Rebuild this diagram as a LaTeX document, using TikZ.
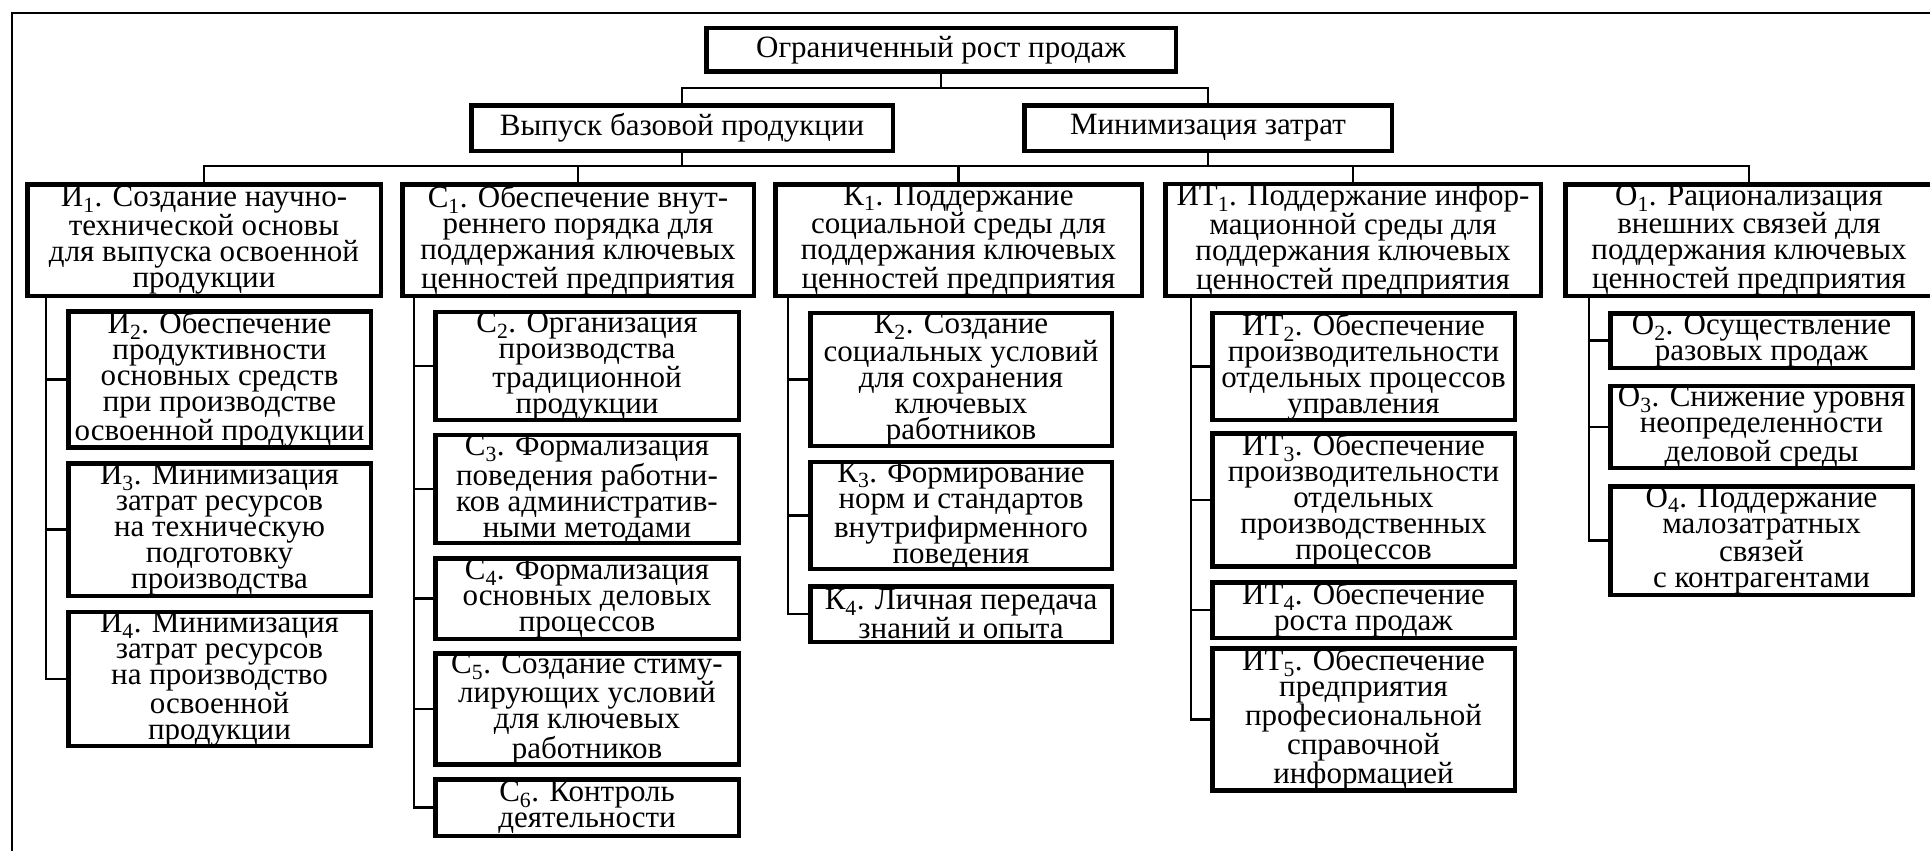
\documentclass[tikz,border=0pt]{standalone}
\usepackage{fontspec}
\setmainfont{Liberation Serif}
\newcommand\ix[1]{\textsubscript{#1}}
\begin{document}
\begin{tikzpicture}[x=1pt,y=-1pt,
  box/.style={draw, line width=4.5pt, rectangle, inner sep=0pt, align=center,
              font=\fontsize{31}{26}\selectfont},
  link/.style={line width=2.2pt}]
\useasboundingbox (0,0) rectangle (1930,851);
\fill[white] (0,0) rectangle (1930,851);
\clip (0,0) rectangle (1930,851);
% outer frame
\draw[link] (12,13) rectangle (1960,880);

% goal and two directions
\node[box, minimum width=469.5pt, minimum height=43.5pt] (top) at (941,50) {Ограниченный рост продаж};
\node[box, minimum width=421.5pt, minimum height=45.5pt] (vyp) at (682,128) {Выпуск базовой продукции};
\node[box, minimum width=367.5pt, minimum height=45.5pt] (mn) at (1208,128) {Минимизация затрат};

% first-level tasks
\node[box, minimum width=353.5pt, minimum height=111.5pt] (i1) at (204,240)
  {И\ix{1}. Создание научно-\\технической основы\\для выпуска освоенной\\продукции};
\node[box, minimum width=351.5pt, minimum height=111.5pt] (c1) at (578,240)
  {С\ix{1}. Обеспечение внут-\\реннего порядка для\\поддержания ключевых\\ценностей предприятия};
\node[box, minimum width=366.5pt, minimum height=111.5pt] (k1) at (958.5,240)
  {К\ix{1}. Поддержание\\социальной среды для\\поддержания ключевых\\ценностей предприятия};
\node[box, minimum width=375.5pt, minimum height=111.5pt] (it1) at (1353,240)
  {ИТ\ix{1}. Поддержание инфор-\\мационной среды для\\поддержания ключевых\\ценностей предприятия};
\node[box, minimum width=367.5pt, minimum height=111.5pt] (o1) at (1749,240)
  {О\ix{1}. Рационализация\\внешних связей для\\поддержания ключевых\\ценностей предприятия};

% И branch
\node[box, minimum width=302.5pt, minimum height=132.5pt] (i2) at (219.5,379.5)
  {И\ix{2}. Обеспечение\\продуктивности\\основных средств\\при производстве\\освоенной продукции};
\node[box, minimum width=302.5pt, minimum height=132.5pt] (i3) at (219.5,529.5)
  {И\ix{3}. Минимизация\\затрат ресурсов\\на техническую\\подготовку\\производства};
\node[box, minimum width=302.5pt, minimum height=133.5pt] (i4) at (219.5,679)
  {И\ix{4}. Минимизация\\затрат ресурсов\\на производство\\освоенной\\продукции};

% С branch
\node[box, minimum width=303.5pt, minimum height=105.5pt] (c2) at (587,366)
  {С\ix{2}. Организация\\производства\\традиционной\\продукции};
\node[box, minimum width=303.5pt, minimum height=105.5pt] (c3) at (587,489)
  {С\ix{3}. Формализация\\поведения работни-\\ков административ-\\ными методами};
\node[box, minimum width=303.5pt, minimum height=80.5pt] (c4) at (587,598.5)
  {С\ix{4}. Формализация\\основных деловых\\процессов};
\node[box, minimum width=303.5pt, minimum height=107.5pt] (c5) at (587,709)
  {С\ix{5}. Создание стиму-\\лирующих условий\\для ключевых\\работников};
\node[box, minimum width=303.5pt, minimum height=56.5pt] (c6) at (587,807.5)
  {С\ix{6}. Контроль\\деятельности};

% К branch
\node[box, minimum width=301.5pt, minimum height=132.5pt] (k2) at (961,379.5)
  {К\ix{2}. Создание\\социальных условий\\для сохранения\\ключевых\\работников};
\node[box, minimum width=301.5pt, minimum height=106.5pt] (k3) at (961,515.5)
  {К\ix{3}. Формирование\\норм и стандартов\\внутрифирменного\\поведения};
\node[box, minimum width=301.5pt, minimum height=55.5pt] (k4) at (961,614)
  {К\ix{4}. Личная передача\\знаний и опыта};

% ИТ branch
\node[box, minimum width=302.5pt, minimum height=106.5pt] (it2) at (1363.5,366.5)
  {ИТ\ix{2}. Обеспечение\\производительности\\отдельных процессов\\управления};
\node[box, minimum width=302.5pt, minimum height=131.5pt] (it3) at (1363.5,500)
  {ИТ\ix{3}. Обеспечение\\производительности\\отдельных\\производственных\\процессов};
\node[box, minimum width=302.5pt, minimum height=55.5pt] (it4) at (1363.5,610)
  {ИТ\ix{4}. Обеспечение\\роста продаж};
\node[box, minimum width=302.5pt, minimum height=132.5pt] (it5) at (1363.5,719.5)
  {ИТ\ix{5}. Обеспечение\\предприятия\\професиональной\\справочной\\информацией};

% О branch
\node[box, minimum width=302.5pt, minimum height=54.5pt] (o2) at (1761.5,340.5)
  {О\ix{2}. Осуществление\\разовых продаж};
\node[box, minimum width=302.5pt, minimum height=81.5pt] (o3) at (1761.5,427)
  {О\ix{3}. Снижение уровня\\неопределенности\\деловой среды};
\node[box, minimum width=302.5pt, minimum height=108.5pt] (o4) at (1761.5,540.5)
  {О\ix{4}. Поддержание\\малозатратных\\связей\\с контрагентами};

% top fork
\draw[link] (top.south) -- ++(0,14) -| (vyp.north);
\draw[link] (top.south) ++(0,14) -| (mn.north);

% bus to the first-level tasks
\path (i1.north) ++(0,-16) coordinate (bus);
\draw[link] (i1.north) -- (bus) -| (o1.north);
\draw[link] (vyp.south) -- (vyp.south |- bus);
\draw[link] (mn.south) -- (mn.south |- bus);
\draw[link] (c1.north) -- (c1.north |- bus);
\draw[link] (k1.north) -- (k1.north |- bus);
\draw[link] (it1.north) -- (it1.north |- bus);

% trunks to the sub-tasks
\coordinate (ti) at (46,0);
\coordinate (tc) at (414,0);
\coordinate (tk) at (788,0);
\coordinate (tit) at (1191,0);
\coordinate (to) at (1589,0);
\foreach \c in {i2,i3,i4} \draw[link] (i1.south -| ti) |- (\c.west);
\foreach \c in {c2,c3,c4,c5,c6} \draw[link] (c1.south -| tc) |- (\c.west);
\foreach \c in {k2,k3,k4} \draw[link] (k1.south -| tk) |- (\c.west);
\foreach \c in {it2,it3,it4,it5} \draw[link] (it1.south -| tit) |- (\c.west);
\foreach \c in {o2,o3,o4} \draw[link] (o1.south -| to) |- (\c.west);
\end{tikzpicture}
\end{document}
